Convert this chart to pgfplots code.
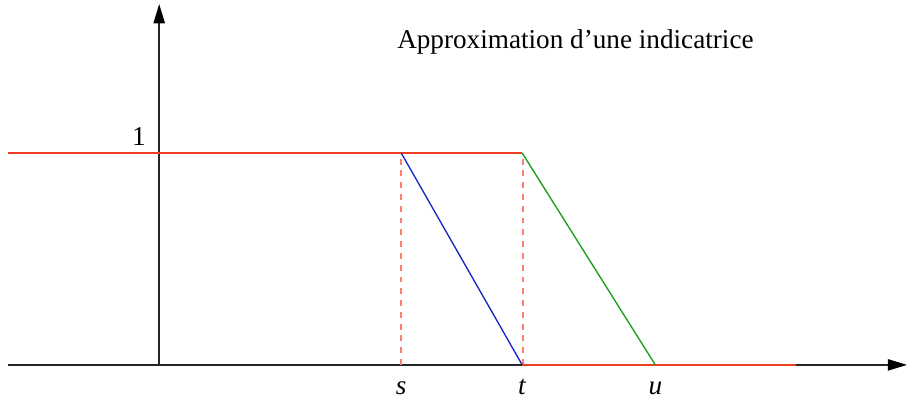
\documentclass[border=0pt]{standalone}
\usepackage{fontspec}
\setmainfont{Liberation Serif}
\usepackage{pgfplots}
\pgfplotsset{compat=1.18}
\usetikzlibrary{arrows.meta}

\definecolor{rouge}{RGB}{240,62,32}
\definecolor{rose}{RGB}{255,125,110}
\definecolor{bleu}{RGB}{25,40,200}
\definecolor{vert}{RGB}{25,160,25}

\begin{document}
\begin{tikzpicture}[font=\fontsize{12}{14}\selectfont]
  \begin{axis}[
    x=53.4pt, y=93.5pt,
    xmin=-1.25, xmax=6.18,
    ymin=0, ymax=1.703,
    axis lines=middle,
    axis line style={black!85, line width=0.65pt,
      -{Triangle[length=8.5pt,width=5pt,fill=black,color=black]}},
    enlargelimits=false,
    clip=false,
    major tick length=0pt,
    xtick={2,3,4.1},
    xticklabels={\textit{s},\textit{t},\textit{u}},
    xticklabel style={anchor=base, yshift=-13pt},
    ytick={1},
    yticklabels={1},
    yticklabel style={anchor=south east, inner sep=0pt, xshift=-5.7pt, yshift=3pt},
  ]
  % lignes de niveau
  \addplot[rose, line width=0.75pt, dash pattern=on 2.6pt off 2.6pt]
    coordinates {(2,0) (2,1)};
  \addplot[rose, line width=0.75pt, dash pattern=on 2.6pt off 2.6pt]
    coordinates {(3.005,0) (3.005,1)};
  % indicatrice
  \addplot[rouge, line width=0.7pt] coordinates {(-1.25,1) (3,1)};
  \addplot[rouge, line width=0.7pt] coordinates {(3,0) (5.26,0)};
  % approximations
  \addplot[bleu, line width=0.6pt] coordinates {(2,1) (3,0)};
  \addplot[vert, line width=0.6pt] coordinates {(3,1) (4.1,0)};
  \node at (axis cs:3.44,1.524) {Approximation d'une indicatrice};
  \coordinate (sw) at (axis cs:-1.25,0);
  \coordinate (ne) at (axis cs:6.18,1.703);
  \end{axis}
  \pgfresetboundingbox
  \path ([xshift=-3.5pt,yshift=-15pt]sw) rectangle ([xshift=0pt,yshift=1.8pt]ne);
\end{tikzpicture}
\end{document}
